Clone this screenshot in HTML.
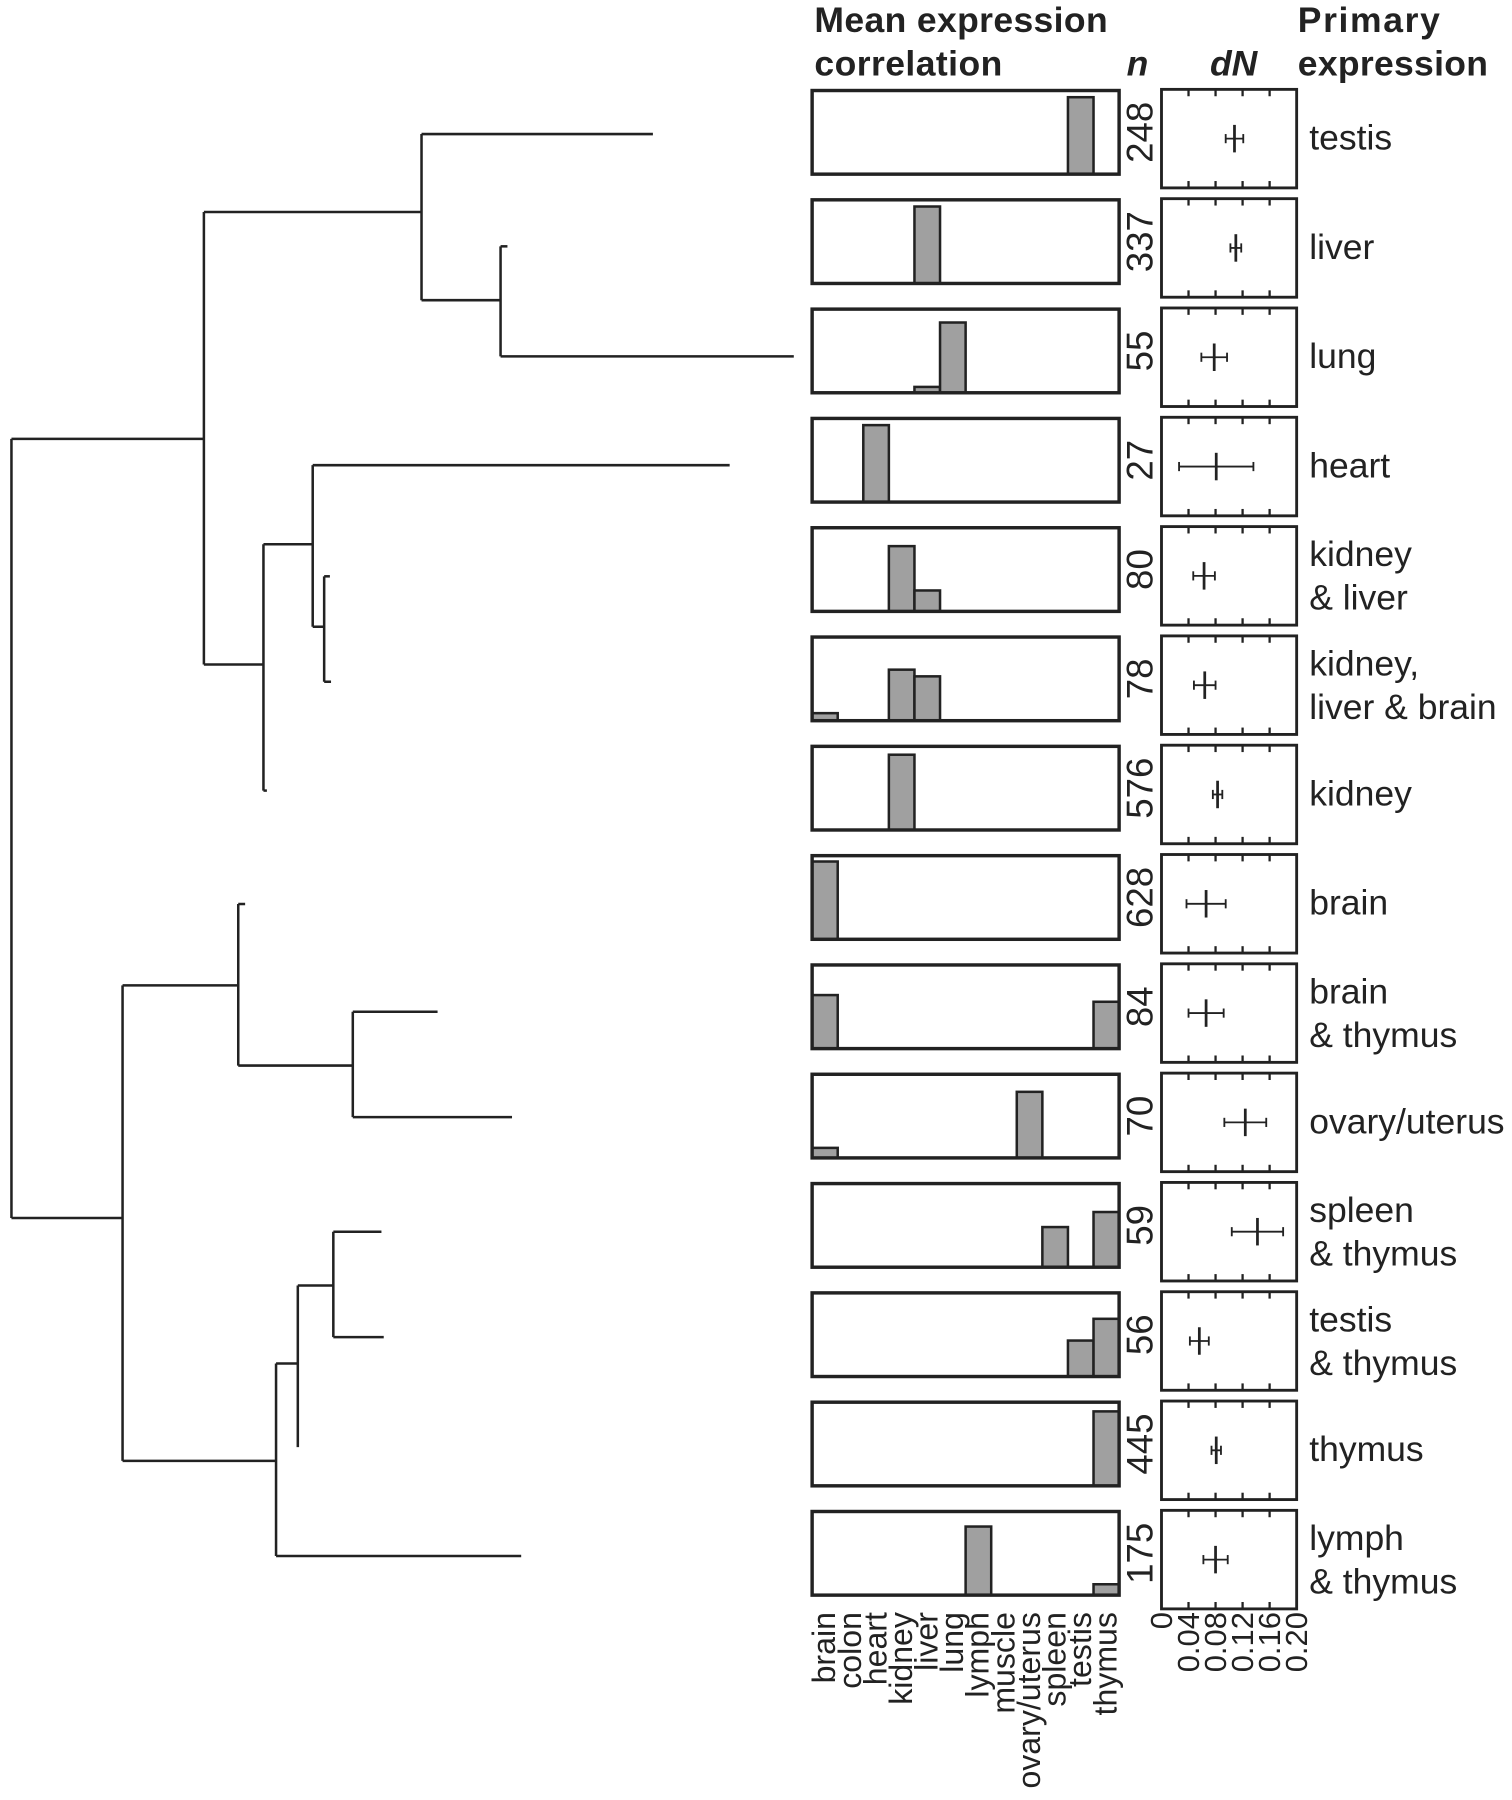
<!DOCTYPE html>
<html><head><meta charset="utf-8"><style>
html,body{margin:0;padding:0;background:#fff;}
svg{display:block;}
text{font-family:"Liberation Sans",Arial,sans-serif;fill:#222;}
</style></head><body>
<svg id="fig" width="1512" height="1800" viewBox="0 0 1320 1571" preserveAspectRatio="none" xmlns="http://www.w3.org/2000/svg">
<g id="tree" stroke="#222" stroke-width="2.2" fill="none"></g>
<g id="hdr">
<text x="711" y="28" font-size="31" font-weight="bold" textLength="256">Mean expression</text>
<text x="711" y="66" font-size="31" font-weight="bold" textLength="164">correlation</text>
<text x="993" y="66" font-size="31" font-weight="bold" font-style="italic" text-anchor="middle">n</text>
<text x="1077" y="66" font-size="31" font-weight="bold" font-style="italic" text-anchor="middle">dN</text>
<text x="1133" y="28" font-size="31" font-weight="bold" textLength="124">Primary</text>
<text x="1133" y="66" font-size="31" font-weight="bold" textLength="166">expression</text>
</g>
<g id="rows"></g>
<g id="axes"></g>
</svg>
<script>
const categories = ["brain","colon","heart","kidney","liver","lung","lymph","muscle","ovary/uterus","spleen","testis","thymus"];
const rowLabels = [["testis"],["liver"],["lung"],["heart"],["kidney","& liver"],["kidney,","liver & brain"],["kidney"],["brain"],["brain","& thymus"],["ovary/uterus"],["spleen","& thymus"],["testis","& thymus"],["thymus"],["lymph","& thymus"]];
const nValues = [248,337,55,27,80,78,576,628,84,70,59,56,445,175];
// bar heights as fraction of panel, per row: [categoryIndex, value]
const barData = [
 [[10,0.92]],
 [[4,0.92]],
 [[4,0.07],[5,0.84]],
 [[2,0.92]],
 [[3,0.78],[4,0.25]],
 [[0,0.09],[3,0.61],[4,0.53]],
 [[3,0.9]],
 [[0,0.93]],
 [[0,0.64],[11,0.56]],
 [[0,0.12],[8,0.79]],
 [[9,0.48],[11,0.66]],
 [[10,0.43],[11,0.69]],
 [[11,0.89]],
 [[6,0.82],[11,0.13]]
];
const dnMean = [0.108,0.110,0.078,0.081,0.063,0.064,0.083,0.066,0.066,0.124,0.142,0.056,0.081,0.080];
const dnErr  = [0.013,0.008,0.019,0.055,0.016,0.016,0.007,0.029,0.026,0.031,0.038,0.014,0.007,0.018];
const dnTicks = ["0","0.04","0.08","0.12","0.16","0.20"];

const NS="http://www.w3.org/2000/svg";
function mk(tag,attrs,parent){const e=document.createElementNS(NS,tag);for(const k in attrs)e.setAttribute(k,attrs[k]);parent.appendChild(e);return e;}
const rows=document.getElementById('rows'), axes=document.getElementById('axes'), tree=document.getElementById('tree');
const BX0=709,BX1=977,BH=73,DX0=1014,DX1=1132,DH=86,ROW0=79,STEP=95.4;
const cw=(BX1-BX0)/categories.length;
const xdn=v=>DX0+v/0.20*(DX1-DX0);
const ybar=(top,v)=>top+BH-v*BH;

for(let i=0;i<nValues.length;i++){
  const top=ROW0+i*STEP;
  const g=mk('g',{},rows);
  
  
  barData[i].forEach(([ci,v])=>{
    const r=mk('rect',{x:BX0+ci*cw,y:ybar(top,v),width:cw,height:v*BH,fill:'#a0a0a0',stroke:'#222','stroke-width':2.2},g);
    
    
  });
  const p=mk('rect',{x:BX0,y:top,width:BX1-BX0,height:BH,fill:'none',stroke:'#222','stroke-width':3},g);
  
  
  const cy=top+BH/2;
  const nt=mk('text',{x:0,y:0,'font-size':32,'text-anchor':'middle',transform:`translate(1006,${cy}) rotate(-90)`},g);
  nt.textContent=nValues[i];
  
  
  const dtop=top-1;
  const dp=mk('rect',{x:DX0,y:dtop,width:DX1-DX0,height:DH,fill:'none',stroke:'#222','stroke-width':2.5},g);
  
  
  for(let t=1;t<5;t++){
    const tx=xdn(t*0.04);
    mk('line',{x1:tx,x2:tx,y1:dtop,y2:dtop+6,stroke:'#222','stroke-width':2},g);
    mk('line',{x1:tx,x2:tx,y1:dtop+DH,y2:dtop+DH-6,stroke:'#222','stroke-width':2},g);
  }
  const dcy=dtop+DH/2, mx=xdn(dnMean[i]), lo=xdn(dnMean[i]-dnErr[i]), hi=xdn(dnMean[i]+dnErr[i]);
  const eb=mk('g',{stroke:'#222'},g);
  
  
  mk('line',{x1:lo,x2:hi,y1:dcy,y2:dcy,'stroke-width':1.6},eb);
  mk('line',{x1:lo,x2:lo,y1:dcy-4,y2:dcy+4,'stroke-width':1.6},eb);
  mk('line',{x1:hi,x2:hi,y1:dcy-4,y2:dcy+4,'stroke-width':1.6},eb);
  mk('line',{x1:mx,x2:mx,y1:dcy-12,y2:dcy+12,'stroke-width':2.4},eb);
  const lab=rowLabels[i];
  lab.forEach((s,k)=>{
    const ty=lab.length===1?cy+15:cy-3+(k*38);
    const t=mk('text',{x:1143,y:ty,'font-size':31},g);
    t.textContent=s;
    
    
  });
}
categories.forEach((c,ci)=>{
  const x=BX0+ci*cw+cw/2+9;
  const t=mk('text',{'font-size':28,'text-anchor':'end',transform:`translate(${x},1407) rotate(-90)`},axes);
  t.textContent=c;
  
  
});
dnTicks.forEach((s,k)=>{
  const x=xdn(k*0.04)+9;
  const t=mk('text',{'font-size':27,'text-anchor':'end',transform:`translate(${x},1407) rotate(-90)`},axes);
  t.textContent=s;
  
  
});
// dendrogram segments (structure of tree)
const segs=[
[10,383,10,1063],[10,383,178,383],[178,185,178,580],
[178,185,368,185],[368,117,368,262],[368,117,570,117],[368,262,437,262],[437,215,437,311],[437,215,443,215],[437,311,693,311],
[178,580,230,580],[230,475,230,690],[230,475,273,475],[273,406,273,547],[273,406,637,406],[273,547,283,547],[283,503,283,595],[283,503,288,503],[283,595,289,595],[230,690,233,690],
[10,1063,107,1063],[107,860,107,1275],[107,860,208,860],[208,789,208,930],[208,789,214,789],[208,930,308,930],[308,883,308,975],[308,883,382,883],[308,975,447,975],
[107,1275,241,1275],[241,1190,241,1358],[241,1190,260,1190],[260,1122,260,1263],[260,1122,291,1122],[291,1075,291,1167],[291,1075,333,1075],[291,1167,335,1167],[241,1358,455,1358]
];
segs.forEach(s=>{
  const l=mk('line',{x1:s[0],y1:s[1],x2:s[2],y2:s[3]},tree);
  
  
});
</script>
</body></html>
